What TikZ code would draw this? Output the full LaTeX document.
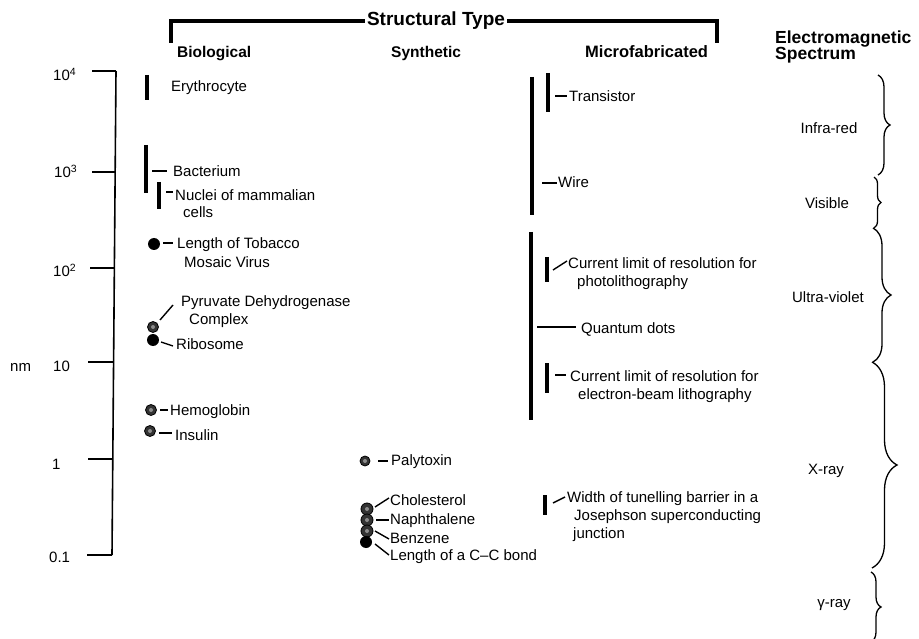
\documentclass[tikz,border=0pt]{standalone}
\usepackage{fontspec}
\setmainfont{Liberation Sans}
\usetikzlibrary{decorations.pathreplacing}
\newcommand{\myconn}[3]{\coordinate (#1s) at (#2); \coordinate (#1e) at (#3); \draw[conn] (#1s) -- (#1e);}
\begin{document}
\begin{tikzpicture}[x=1pt,y=-1pt,
  lbl/.style={anchor=base west,inner sep=0,font=\fontsize{15}{18}\selectfont},
  slbl/.style={anchor=base,inner sep=0,font=\fontsize{15}{18}\selectfont},
  hdr/.style={anchor=base west,inner sep=0,font=\fontsize{#1}{#1}\selectfont\bfseries},
  bar/.style={line width=4.2pt},
  conn/.style={line width=1.4pt},
  tickline/.style={line width=1.5pt},
  dotsolid/.style={circle,fill=black,inner sep=0,minimum size=#1},
  dotpat/.style={circle,fill=black!80,draw=black,line width=0.8pt,inner sep=0,minimum size=#1,
    path picture={\fill[black!45] (path picture bounding box.center) circle (2pt);}},
  specbrace/.style={decorate,decoration={brace,amplitude=#1},line width=1.3pt}]
\path[use as bounding box,clip] (0,0) rectangle (919,639);

% ---- header
\node[inner sep=2pt,font=\fontsize{19}{19}\selectfont\bfseries] (title) at (436,21) {Structural Type};
\coordinate (bl) at (171,43);
\coordinate (br) at (717,43);
\draw[line width=4pt] (title.west) -| (bl);
\draw[line width=4pt] (title.east) -| (br);
\node[hdr=15.5] (hbio) at (177,58) {Biological};
\node[hdr=15.5] (hsyn) at (391,58) {Synthetic};
\node[hdr=16.5] (hmic) at (585,58) {Microfabricated};
\node[hdr=17.5] (hem1) at (775,44) {Electromagnetic};
\node[hdr=17.5] (hem2) at (775,60) {Spectrum};

% ---- axis
\coordinate (axtop) at (116,71);
\coordinate (axbot) at (112,555);
\draw[line width=1.6pt] (axtop) -- (axbot);
\draw[tickline] (92,71) -- (116,71);
\draw[tickline] (92,172) -- (115,172);
\draw[tickline] (90,268) -- (114,268);
\draw[tickline] (88,362) -- (113,362);
\draw[tickline] (88,459) -- (113,459);
\draw[tickline] (87,555) -- (112,555);
\node[lbl] (t4) at (53,81) {10\textsuperscript{4}};
\node[lbl] (t3) at (54,178) {10\textsuperscript{3}};
\node[lbl] (t2) at (53,277) {10\textsuperscript{2}};
\node[lbl] (t1) at (53,371) {10};
\node[lbl] (t0) at (52,469) {1};
\node[lbl] (tm) at (49,562) {0.1};
\node[lbl] (nm) at (10,371) {nm};

% ---- biological
\draw[bar] (147,75) -- (147,100);
\node[lbl] (ery) at (171,92) {Erythrocyte};
\draw[bar] (146,145) -- (146,193);
\myconn{cbac}{152,171}{167,171}
\node[lbl] (bac) at (173,177) {Bacterium};
\draw[bar] (159,182) -- (159,209);
\myconn{cnuc}{166,192}{173,192}
\node[lbl] (nuc1) at (175,201) {Nuclei of mammalian};
\node[lbl] (nuc2) at (183,218) {cells};

\node[dotsolid=12pt] (tmv) at (154,244) {};
\myconn{ctmv}{163,243}{173,243}
\node[lbl] (tmv1) at (177,249) {Length of Tobacco};
\node[lbl] (tmv2) at (184,268) {Mosaic Virus};

\node[dotpat=11pt] (pdc) at (153,327) {};
\node[dotsolid=12pt] (ribo) at (153,340) {};
\myconn{cpdc}{160,320}{173,305}
\node[lbl] (pdc1) at (181,307) {Pyruvate Dehydrogenase};
\node[lbl] (pdc2) at (189,324) {Complex};
\myconn{cribo}{161,342}{173,346}
\node[lbl] (ribl) at (176,349) {Ribosome};

\node[dotpat=11pt] (hemo) at (151,410) {};
\myconn{chemo}{160,410}{168,410}
\node[lbl] (heml) at (170,415) {Hemoglobin};
\node[dotpat=11pt] (ins) at (150,431) {};
\myconn{cins}{159,433}{172,433}
\node[lbl] (insl) at (175,440) {Insulin};

% ---- synthetic
\node[dotpat=10pt] (paly) at (365,461) {};
\myconn{cpaly}{378,461}{388,461}
\node[lbl] (palyl) at (391,465) {Palytoxin};
\node[dotpat=12pt] (chol) at (367,509) {};
\node[dotpat=12pt] (naph) at (367,520) {};
\node[dotpat=12pt] (benz) at (367,531) {};
\node[dotsolid=12pt] (ccb) at (366,542) {};
\myconn{cchol}{375,507}{389,498}
\myconn{cnaph}{376,520}{389,520}
\myconn{cbenz}{375,531}{389,539}
\myconn{cccb}{375,544}{389,555}
\node[lbl] (chol1) at (390,505) {Cholesterol};
\node[lbl] (naph1) at (390,524) {Naphthalene};
\node[lbl] (benz1) at (390,543) {Benzene};
\node[lbl] (ccb1) at (390,560) {Length of a C–C bond};

% ---- microfabricated
\draw[line width=4.5pt] (532,77) -- (532,215);
\draw[line width=4.5pt] (531,232) -- (531,420);
\draw[bar] (548,73) -- (548,112);
\myconn{ctra}{555,96}{567,96}
\node[lbl] (tra) at (569,102) {Transistor};
\myconn{cwire}{542,183}{557,183}
\node[lbl] (wire) at (558,188) {Wire};
\draw[bar] (547,257) -- (547,282);
\myconn{cphoto}{553,270}{567,261}
\node[lbl] (ph1) at (568,269) {Current limit of resolution for};
\node[lbl] (ph2) at (577,287) {photolithography};
\myconn{cqd}{537,327}{576,327}
\node[lbl] (qd) at (581,334) {Quantum dots};
\draw[bar] (547,363) -- (547,393);
\myconn{ceb}{555,375}{566,375}
\node[lbl] (eb1) at (570,381) {Current limit of resolution for};
\node[lbl] (eb2) at (578,399) {electron-beam lithography};
\draw[bar] (545,495) -- (545,515);
\myconn{cjos}{553,503}{565,497}
\node[lbl] (jo1) at (567,502) {Width of tunelling barrier in a};
\node[lbl] (jo2) at (574,520) {Josephson superconducting};
\node[lbl] (jo3) at (573,538) {junction};

% ---- spectrum
\coordinate (ir1) at (878,75);  \coordinate (ir2) at (878,175);
\coordinate (vi1) at (874,177); \coordinate (vi2) at (874,228);
\coordinate (uv1) at (873,228); \coordinate (uv2) at (873,362);
\coordinate (xr1) at (872,362); \coordinate (xr2) at (872,568);
\coordinate (gr1) at (871,572); \coordinate (gr2) at (871,642);
\draw[specbrace=12] (ir1) -- (ir2);
\draw[specbrace=7] (vi1) -- (vi2);
\draw[specbrace=18] (uv1) -- (uv2);
\draw[specbrace=25] (xr1) -- (xr2);
\draw[specbrace=10] (gr1) -- (gr2);
\node[slbl] (irl) at (829,134) {Infra-red};
\node[slbl] (vil) at (827,209) {Visible};
\node[slbl] (uvl) at (828,302) {Ultra-violet};
\node[slbl] (xrl) at (826,474) {X-ray};
\node[slbl] (grl) at (834,607) {γ-ray};
\end{tikzpicture}
\end{document}
